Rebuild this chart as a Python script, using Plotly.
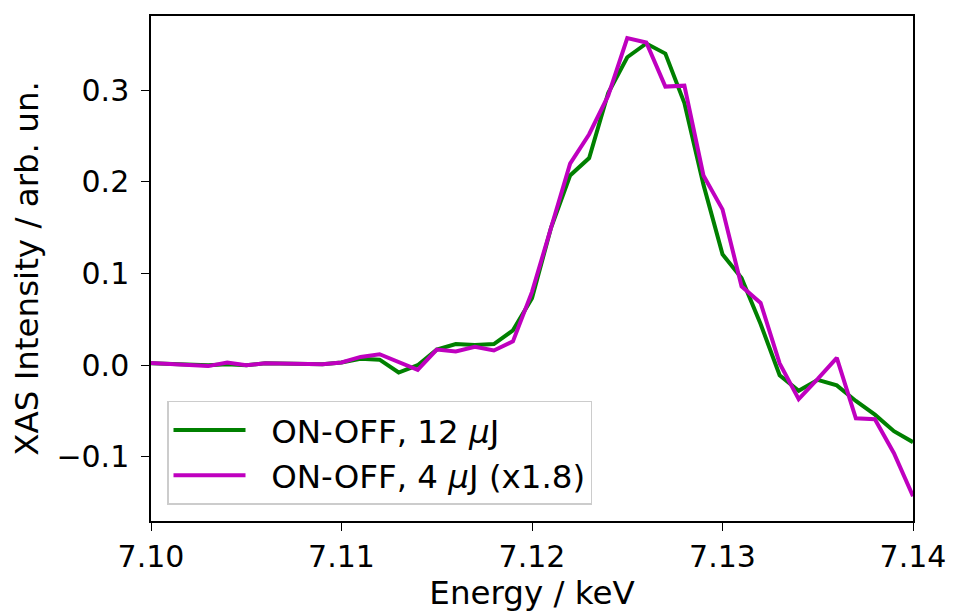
import plotly.graph_objects as go

energy = [round(7.100 + 0.001 * i, 3) for i in range(41)]

on_off_12uJ = [0.002, 0.001, 0.0005, 0.000, 0.001, 0.000, 0.002, 0.002, 0.002, 0.001,
               0.003, 0.007, 0.006, -0.008, 0.000, 0.017, 0.023, 0.022, 0.023, 0.038,
               0.073, 0.150, 0.207, 0.226, 0.297, 0.336, 0.351, 0.340, 0.286, 0.197,
               0.121, 0.095, 0.045, -0.011, -0.028, -0.016, -0.022, -0.039, -0.054, -0.072,
               -0.084]

on_off_4uJ_x18 = [0.0025, 0.001, 0.0005, -0.001, 0.003, 0.000, 0.002, 0.002, 0.002, 0.001,
                  0.003, 0.009, 0.012, 0.003, -0.005, 0.017, 0.015, 0.020, 0.016, 0.026,
                  0.080, 0.150, 0.220, 0.252, 0.294, 0.357, 0.352, 0.304, 0.305, 0.207,
                  0.170, 0.086, 0.068, 0.002, -0.037, -0.015, 0.008, -0.058, -0.059, -0.096,
                  -0.143]

series_names = ["\u00a0\u00a0ON-OFF, 12 <i>μ</i>J", "\u00a0\u00a0ON-OFF, 4 <i>μ</i>J (x1.8)"]
x_ticks = [7.10, 7.11, 7.12, 7.13, 7.14]
x_tick_labels = ["7.10", "7.11", "7.12", "7.13", "7.14"]
y_ticks = [-0.1, 0.0, 0.1, 0.2, 0.3]
y_tick_labels = ["−0.1", "0.0", "0.1", "0.2", "0.3"]

FONT = "DejaVu Sans"
LABEL_SIZE = 32.5

fig = go.Figure()
fig.add_trace(go.Scatter(x=energy, y=on_off_12uJ, mode="lines", name=series_names[0],
                         line=dict(color="#008000", width=4)))
fig.add_trace(go.Scatter(x=energy, y=on_off_4uJ_x18, mode="lines", name=series_names[1],
                         line=dict(color="#bf00bf", width=4)))

axis_common = dict(showline=True, linecolor="black", linewidth=1.5, mirror=True,
                   ticks="outside", ticklen=8, tickwidth=1.3, tickcolor="black",
                   showgrid=False, zeroline=False, automargin=False,
                   tickfont=dict(family=FONT, size=30, color="black"))

fig.update_layout(
    width=954, height=614,
    margin=dict(l=151, r=41, t=16, b=93),
    paper_bgcolor="white", plot_bgcolor="white",
    font=dict(family=FONT, size=30, color="black"),
    xaxis=dict(range=[7.10, 7.14], tickvals=x_ticks, ticktext=x_tick_labels,
               title=dict(text="Energy / keV", font=dict(family=FONT, size=LABEL_SIZE), standoff=6),
               **axis_common),
    yaxis=dict(range=[-0.170, 0.381], tickvals=y_ticks, ticktext=y_tick_labels,
               title=dict(text="XAS Intensity / arb. un.", font=dict(family=FONT, size=LABEL_SIZE), standoff=8),
               ticklabelstandoff=6,
               **axis_common),
    showlegend=True,
    legend=dict(x=0.021, y=0.032, xanchor="left", yanchor="bottom",
                bgcolor="rgba(255,255,255,0.8)", bordercolor="#cccccc", borderwidth=1.5,
                font=dict(family=FONT, size=LABEL_SIZE, color="black"),
                itemwidth=72, tracegroupgap=0),
)

fig.write_html("out.html")
